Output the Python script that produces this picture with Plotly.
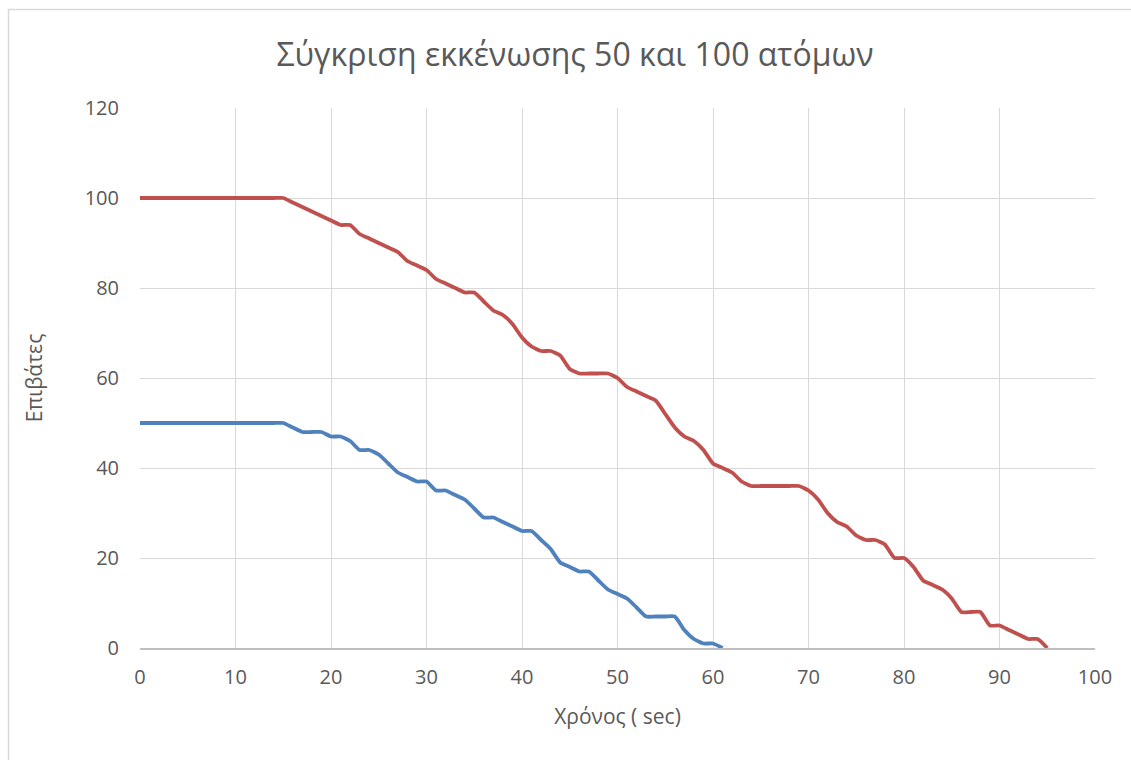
import plotly.graph_objects as go

# Evacuation over time (seconds) for two group sizes
time_100 = list(range(0, 96))
people_100 = [
    100, 100, 100, 100, 100, 100, 100, 100, 100, 100,  # 0-9
    100, 100, 100, 100, 100, 100, 99, 98, 97, 96,      # 10-19
    95, 94, 94, 92, 91, 90, 89, 88, 86, 85,            # 20-29
    84, 82, 81, 80, 79, 79, 77, 75, 74, 72,            # 30-39
    69, 67, 66, 66, 65, 62, 61, 61, 61, 61,            # 40-49
    60, 58, 57, 56, 55, 52, 49, 47, 46, 44,            # 50-59
    41, 40, 39, 37, 36, 36, 36, 36, 36, 36,            # 60-69
    35, 33, 30, 28, 27, 25, 24, 24, 23, 20,            # 70-79
    20, 18, 15, 14, 13, 11, 8, 8, 8, 5,                # 80-89
    5, 4, 3, 2, 2, 0,                                  # 90-95
]

time_50 = list(range(0, 62))
people_50 = [
    50, 50, 50, 50, 50, 50, 50, 50, 50, 50,            # 0-9
    50, 50, 50, 50, 50, 50, 49, 48, 48, 48,            # 10-19
    47, 47, 46, 44, 44, 43, 41, 39, 38, 37,            # 20-29
    37, 35, 35, 34, 33, 31, 29, 29, 28, 27,            # 30-39
    26, 26, 24, 22, 19, 18, 17, 17, 15, 13,            # 40-49
    12, 11, 9, 7, 7, 7, 7, 4, 2, 1,                    # 50-59
    1, 0,                                              # 60-61
]

x_ticks = list(range(0, 101, 10))
y_ticks = list(range(0, 121, 20))

chart_title = "Σύγκριση εκκένωσης 50 και 100 ατόμων"
x_title = "Χρόνος ( sec)"
y_title = "Επιβάτες"

FONT = "Open Sans"
TEXT_GREY = "#595959"
GRID = "#D9D9D9"

W, H = 1131, 760
M_L, M_R, M_T, M_B = 140, 36, 108, 112
plot_w = W - M_L - M_R
plot_h = H - M_T - M_B

fig = go.Figure()

fig.add_trace(go.Scatter(
    x=time_50, y=people_50, mode="lines", name="50 άτομα",
    line=dict(color="#4F81BD", width=3.8, shape="spline", smoothing=0.5),
    hoverinfo="x+y",
))
fig.add_trace(go.Scatter(
    x=time_100, y=people_100, mode="lines", name="100 άτομα",
    line=dict(color="#C0504D", width=3.8, shape="spline", smoothing=0.5),
    hoverinfo="x+y",
))

# Outer chart frame
fig.add_shape(
    type="rect", xref="paper", yref="paper",
    x0=(8.5 - M_L) / plot_w, x1=(W + 10 - M_L) / plot_w,
    y0=(M_T + plot_h - (H + 10)) / plot_h, y1=(M_T + plot_h - 9.5) / plot_h,
    line=dict(color="#D9D9D9", width=1.5), fillcolor="rgba(0,0,0,0)",
    layer="below",
)

fig.update_layout(
    width=W, height=H,
    margin=dict(l=M_L, r=M_R, t=M_T, b=M_B),
    paper_bgcolor="white", plot_bgcolor="white",
    showlegend=False,
    font=dict(family=FONT, color=TEXT_GREY),
    title=dict(
        text=chart_title, x=575 / W, xref="container", xanchor="center",
        y=1 - 55 / H, yref="container", yanchor="middle",
        font=dict(family=FONT, size=32, color=TEXT_GREY),
    ),
)

fig.update_xaxes(
    range=[0, 100], tickvals=x_ticks, ticktext=[str(v) for v in x_ticks],
    showgrid=True, gridcolor=GRID, gridwidth=1.4,
    showline=True, linecolor="#BFBFBF", linewidth=1.5,
    zeroline=False, ticks="", ticklen=0, ticklabelstandoff=10,
    tickfont=dict(family=FONT, size=20, color=TEXT_GREY),
    title=dict(text=x_title, standoff=21,
               font=dict(family=FONT, size=21, color=TEXT_GREY)),
    mirror=False,
)
fig.update_yaxes(
    range=[0, 120], tickvals=y_ticks, ticktext=[str(v) for v in y_ticks],
    showgrid=True, gridcolor=GRID, gridwidth=1.4,
    showline=False, zeroline=False, ticks="", ticklen=0, ticklabelstandoff=20,
    tickfont=dict(family=FONT, size=20, color=TEXT_GREY),
    title=dict(text=y_title, standoff=36,
               font=dict(family=FONT, size=21, color=TEXT_GREY)),
)

fig.write_html("out.html")
